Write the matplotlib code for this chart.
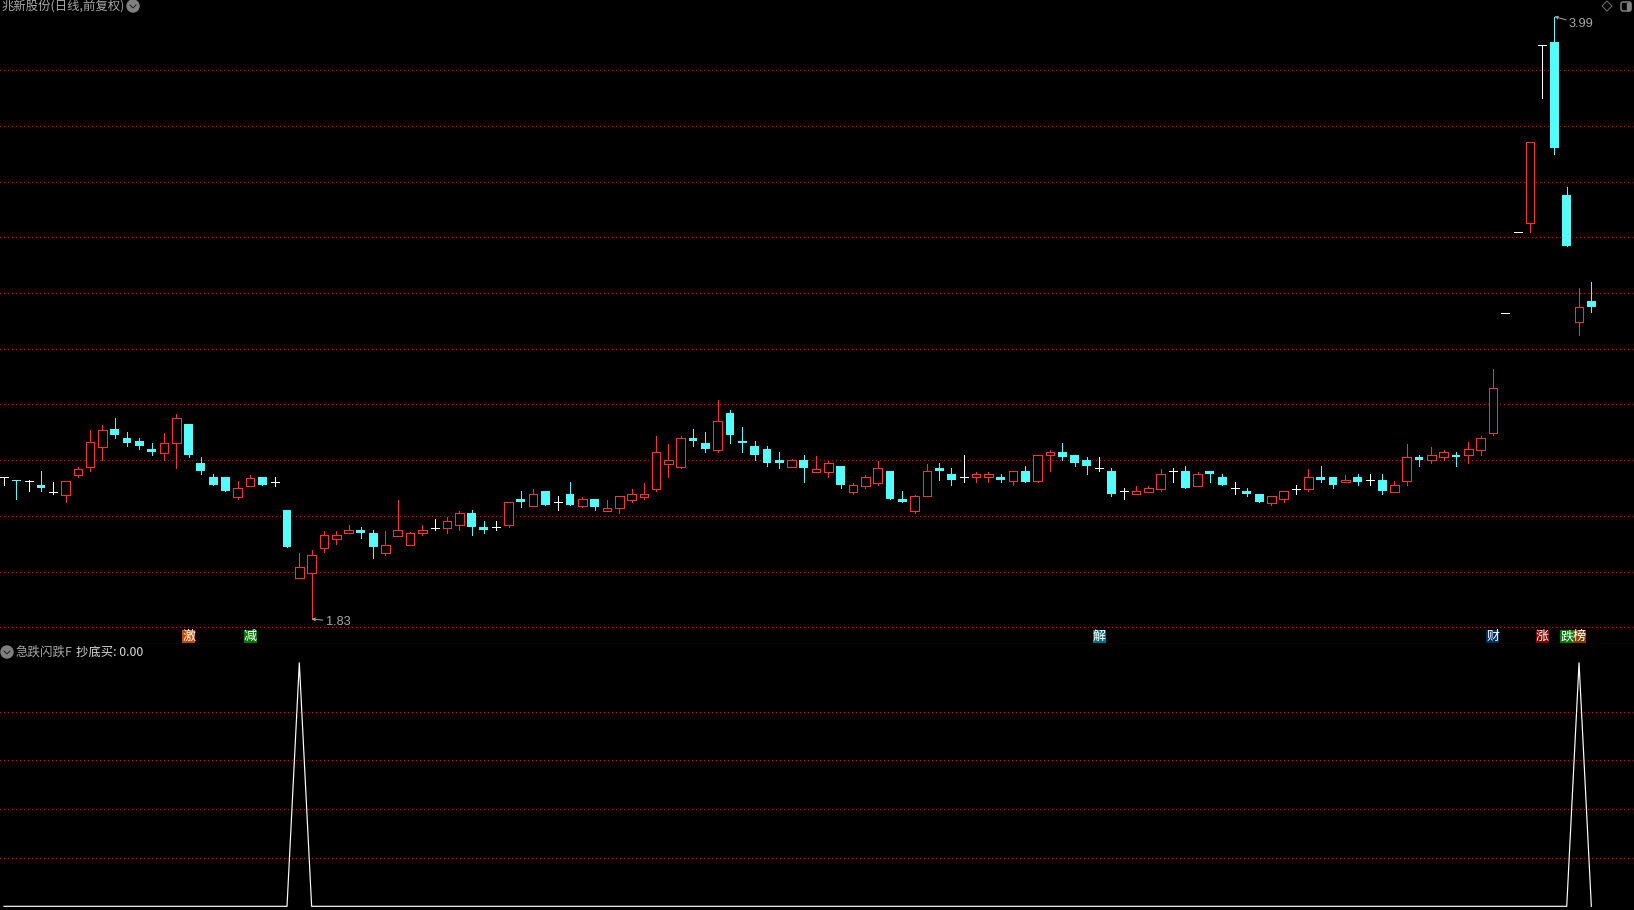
import numpy as np
import matplotlib
matplotlib.use("Agg")
import matplotlib.pyplot as plt
from matplotlib.patches import Circle, Polygon, FancyBboxPatch, Rectangle

plt.rcParams['font.family'] = ['Noto Sans CJK SC', 'DejaVu Sans']

# 日线数据 (开, 高, 低, 收)
opens = [2.34, 2.33, 2.325, 2.31, 2.286, 2.276, 2.347, 2.376, 2.448, 2.511,
         2.479, 2.468, 2.44, 2.4265, 2.46, 2.529, 2.389, 2.339, 2.339, 2.268,
         2.308, 2.339, 2.322, 2.221, 1.977, 1.996, 2.085, 2.118, 2.137, 2.149,
         2.138, 2.066, 2.128, 2.095, 2.137, 2.158, 2.157, 2.168, 2.21, 2.16,
         2.16, 2.168, 2.26, 2.236, 2.289, 2.249, 2.278, 2.236, 2.26, 2.218,
         2.229, 2.258, 2.2685, 2.296, 2.387, 2.375, 2.479, 2.461, 2.437, 2.569,
         2.468, 2.45, 2.44, 2.40, 2.376, 2.40, 2.358, 2.359, 2.38, 2.286,
         2.308, 2.319, 2.362, 2.261, 2.219, 2.27, 2.3725, 2.351, 2.34, 2.338,
         2.338, 2.34, 2.327, 2.362, 2.327, 2.417, 2.43, 2.419, 2.401, 2.371,
         2.362, 2.29, 2.277, 2.2875, 2.298, 2.36, 2.362, 2.309, 2.362, 2.34,
         2.30, 2.29, 2.279, 2.248, 2.259, 2.297, 2.298, 2.34, 2.34, 2.32,
         2.34, 2.329, 2.329, 2.2875, 2.327, 2.412, 2.399, 2.41, 2.419, 2.417,
         2.438, 2.499, 2.93, 3.218, 3.251, 3.89, 3.90, 3.352, 2.898, 2.972]
highs = [2.34, 2.33, 2.328, 2.36, 2.32, 2.327, 2.374, 2.508, 2.526, 2.551,
         2.50, 2.479, 2.46, 2.497, 2.565, 2.529, 2.41, 2.35, 2.339, 2.325,
         2.346, 2.339, 2.339, 2.221, 2.066, 2.077, 2.145, 2.145, 2.167, 2.16,
         2.149, 2.145, 2.2565, 2.143, 2.167, 2.188, 2.195, 2.217, 2.221, 2.181,
         2.181, 2.249, 2.289, 2.296, 2.289, 2.271, 2.321, 2.267, 2.26, 2.2565,
         2.27, 2.296, 2.3175, 2.486, 2.458, 2.486, 2.511, 2.50, 2.6156, 2.58,
         2.519, 2.468, 2.45, 2.429, 2.406, 2.418, 2.4145, 2.398, 2.38, 2.319,
         2.347, 2.398, 2.362, 2.29, 2.2755, 2.387, 2.39, 2.3725, 2.419, 2.358,
         2.358, 2.351, 2.36, 2.38, 2.418, 2.436, 2.462, 2.419, 2.412, 2.412,
         2.3725, 2.30, 2.308, 2.308, 2.369, 2.3725, 2.38, 2.358, 2.362, 2.35,
         2.322, 2.30, 2.279, 2.271, 2.289, 2.311, 2.369, 2.38, 2.34, 2.347,
         2.351, 2.351, 2.351, 2.326, 2.459, 2.419, 2.448, 2.437, 2.43, 2.466,
         2.487, 2.728, 2.93, 3.218, 3.541, 3.89, 3.993, 3.381, 3.018, 3.04]
lows = [2.31, 2.26, 2.29, 2.29, 2.28, 2.25, 2.34, 2.362, 2.40, 2.48,
        2.452, 2.44, 2.419, 2.40, 2.373, 2.411, 2.351, 2.31, 2.289, 2.26,
        2.308, 2.31, 2.309, 2.088, 1.977, 1.83, 2.07, 2.099, 2.137, 2.12,
        2.048, 2.059, 2.128, 2.095, 2.131, 2.149, 2.138, 2.149, 2.131, 2.138,
        2.149, 2.16, 2.231, 2.236, 2.2385, 2.221, 2.2385, 2.231, 2.221, 2.218,
        2.21, 2.249, 2.26, 2.289, 2.339, 2.371, 2.45, 2.429, 2.429, 2.461,
        2.429, 2.40, 2.379, 2.371, 2.376, 2.321, 2.358, 2.34, 2.30, 2.279,
        2.30, 2.311, 2.261, 2.25, 2.211, 2.27, 2.329, 2.311, 2.322, 2.322,
        2.322, 2.322, 2.311, 2.322, 2.322, 2.362, 2.401, 2.38, 2.351, 2.362,
        2.272, 2.261, 2.277, 2.2875, 2.29, 2.322, 2.30, 2.309, 2.322, 2.311,
        2.279, 2.272, 2.25, 2.24, 2.25, 2.279, 2.29, 2.322, 2.30, 2.32,
        2.311, 2.311, 2.279, 2.2875, 2.311, 2.38, 2.39, 2.401, 2.38, 2.39,
        2.419, 2.491, 2.93, 3.218, 3.221, 3.702, 3.50, 3.169, 2.85, 2.932]
closes = [2.34, 2.325, 2.325, 2.30, 2.286, 2.327, 2.37, 2.467, 2.51, 2.49,
          2.461, 2.45, 2.429, 2.46, 2.55, 2.418, 2.361, 2.31, 2.289, 2.30,
          2.335, 2.31, 2.322, 2.088, 2.018, 2.058, 2.13, 2.13, 2.148, 2.138,
          2.088, 2.096, 2.148, 2.137, 2.148, 2.158, 2.182, 2.209, 2.16, 2.149,
          2.16, 2.249, 2.249, 2.277, 2.2385, 2.249, 2.2385, 2.259, 2.231, 2.23,
          2.27, 2.277, 2.277, 2.428, 2.399, 2.478, 2.468, 2.44, 2.539, 2.49,
          2.461, 2.418, 2.389, 2.389, 2.399, 2.371, 2.37, 2.389, 2.311, 2.31,
          2.339, 2.371, 2.261, 2.25, 2.271, 2.36, 2.362, 2.329, 2.34, 2.35,
          2.35, 2.329, 2.36, 2.322, 2.418, 2.429, 2.412, 2.39, 2.38, 2.371,
          2.279, 2.29, 2.289, 2.2995, 2.35, 2.36, 2.30, 2.35, 2.351, 2.311,
          2.30, 2.279, 2.25, 2.271, 2.289, 2.297, 2.339, 2.329, 2.311, 2.328,
          2.322, 2.329, 2.29, 2.31, 2.411, 2.401, 2.418, 2.429, 2.412, 2.44,
          2.479, 2.659, 2.93, 3.218, 3.541, 3.89, 3.522, 3.169, 2.949, 2.95]

# 副图指标 抄底买
buy_days = [24, 128]
buy_value = 1.0

# 顶部标记
badge_days = [15, 20, 89, 121, 125, 127, 128]
badge_text = ["激", "减", "解", "财", "涨", "跌", "榜"]
badge_color = ["#c04a00", "#007a00", "#00747e", "#003060", "#800000", "#007a00", "#804000"]

price_grid = [1.8, 2.0, 2.2, 2.4, 2.6, 2.8, 3.0, 3.2, 3.4, 3.6, 3.8]
sub_grid = [0.2, 0.4, 0.6, 0.8]

RED = "#ff3232"
CYAN = "#54fcfc"
WHITE = "#ffffff"
GRID = "#c80000"
GRAY = "#a8a8a8"
PX = 0.72  # 1像素线宽

W, H = 1634, 910
STEP = 12.305
days = np.arange(len(closes))

fig = plt.figure(figsize=(W / 100, H / 100), dpi=100, facecolor="black")
SPLIT = 643.5
ax = fig.add_axes([0, (H - SPLIT) / H, 1, SPLIT / H], facecolor="black")
ax2 = fig.add_axes([0, 0, 1, (H - SPLIT) / H], facecolor="black")

for a, ticks in ((ax, price_grid), (ax2, sub_grid)):
    a.set_xlim(-4 / STEP, (W - 4) / STEP)
    a.set_yticks(ticks)
    a.set_xticks([])
    a.tick_params(length=0, labelleft=False)
    a.grid(axis="y", color=GRID, lw=1.0, ls=(0, (0.72, 2.16)), antialiased=False, zorder=0)
    a.set_axisbelow(True)
    for s in a.spines.values():
        s.set_visible(False)
ax.spines["bottom"].set_visible(True)
ax.spines["bottom"].set_color("#b00000")
ax.spines["bottom"].set_linewidth(PX * 1.2)

# K线
for i in days:
    o, h, l, c = opens[i], highs[i], lows[i], closes[i]
    if c > o:
        col = RED
    elif c < o:
        col = CYAN
    else:
        col = WHITE
    ax.plot([i, i], [l, h], color=col, lw=PX, aa=False, solid_capstyle="butt", zorder=2)
    if c > o:
        ax.bar(i, c - o, bottom=o, width=8.6 / STEP, facecolor="black", edgecolor=RED,
               linewidth=PX, antialiased=False, zorder=3)
    elif c < o:
        ax.bar(i, o - c, bottom=c, width=8.8 / STEP, color=CYAN, antialiased=False, zorder=3)
    else:
        ax.plot([i - 4 / STEP, i + 4 / STEP], [c, c], color=WHITE, lw=PX, aa=False,
                solid_capstyle="butt", zorder=3)

ax.set_ylim(1.8 + (627.3 - SPLIT) / 278.5, 1.8 + 627.3 / 278.5)

# 最高最低价标注
low_day = int(np.argmin(lows))
high_day = int(np.argmax(highs))
ax.annotate(f"{lows[low_day]:.2f}", xy=(low_day, lows[low_day]), xytext=(10, -2),
            textcoords="offset points", color=GRAY, fontsize=9.2, va="center",
            family="Liberation Sans",
            arrowprops=dict(arrowstyle="->", color=GRAY, lw=PX, shrinkA=0, shrinkB=0, mutation_scale=5))
ax.annotate(f"{highs[high_day]:.2f}", xy=(high_day, highs[high_day]), xytext=(10.5, -5.5),
            textcoords="offset points", color=GRAY, fontsize=9.2, va="center",
            family="Liberation Sans",
            arrowprops=dict(arrowstyle="->", color=GRAY, lw=PX, shrinkA=0, shrinkB=0, mutation_scale=5))

# 标记方块
trans = ax.get_xaxis_transform()
for d, t, col in zip(badge_days, badge_text, badge_color):
    ax.bar(d, 13.5 / SPLIT, bottom=0.5 / SPLIT, width=13 / STEP, color=col, transform=trans, zorder=4)
    ax.text(d, 7.2 / SPLIT, t, color="white", fontsize=9.4, ha="center", va="center",
            transform=trans, zorder=5)

# 副图
line = np.zeros(len(days))
line[buy_days] = buy_value
ax2.plot(days, line, color=WHITE, lw=0.85, zorder=3)
ax2.set_ylim((906.3 - H) / 243.5, (906.3 - SPLIT) / 243.5)

# 叠加层:标题和小图标,按像素定位
top = fig.add_axes([0, 0, 1, 1], facecolor="none")
top.set_xlim(0, W)
top.set_ylim(H, 0)
top.axis("off")
top.text(1, 7, "兆新股份(日线,前复权)", color=GRAY, fontsize=8.9, va="center")
top.add_patch(Circle((133, 6), 6, color="#808080"))
top.plot([130, 133, 136], [5, 8, 5], color="#202020", lw=PX)
top.add_patch(Circle((7, 652), 6, color="#808080"))
top.plot([4, 7, 10], [651, 654, 651], color="#202020", lw=PX)
top.text(16, 652.5, "急跌闪跌F", color=GRAY, fontsize=9, va="center")
top.text(76, 652.5, "抄底买: 0.00", color="#d8d8d8", fontsize=8.9, va="center")
top.add_patch(Polygon([(1607, 1), (1612, 6), (1607, 11), (1602, 6)], closed=True, fill=False,
                      edgecolor="#707070", lw=PX))
top.add_patch(FancyBboxPatch((1621, 2), 10, 9, boxstyle="round,pad=0,rounding_size=2", fill=False,
                             edgecolor="#808080", lw=PX * 1.5))
top.add_patch(Rectangle((1627, 3), 3, 7, color="#808080"))

fig.savefig("out.png", dpi=100, facecolor="black")
